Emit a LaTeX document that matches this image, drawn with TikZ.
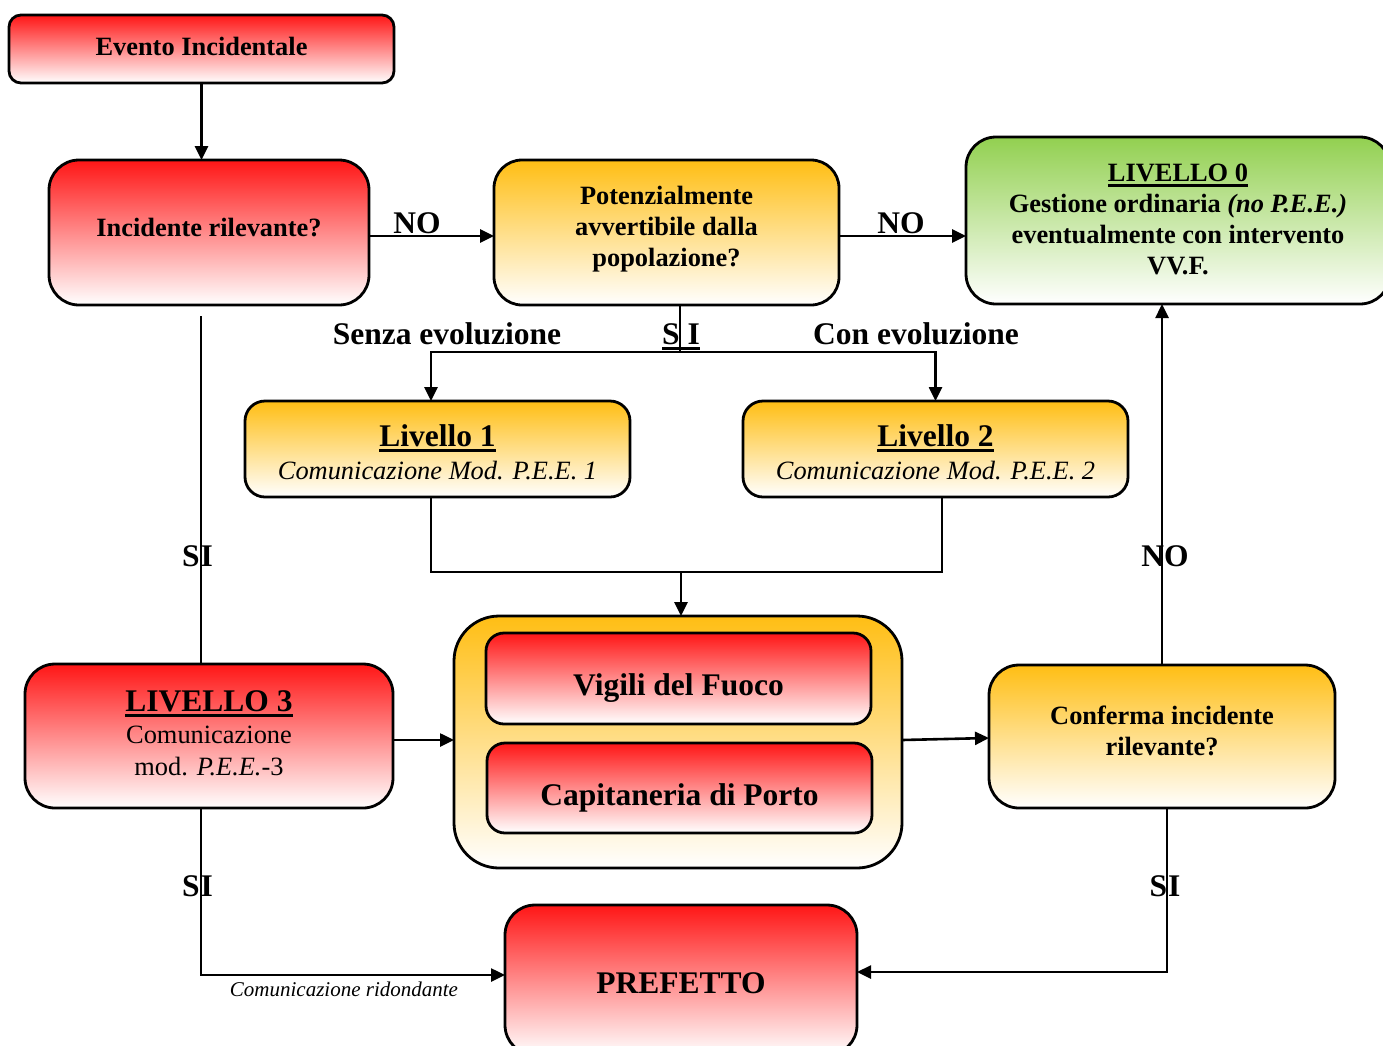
\documentclass[tikz,border=0pt]{standalone}
\usepackage{fontspec}
\setmainfont{Liberation Serif}
\usetikzlibrary{arrows.meta,shadings}
\definecolor{rtop}{RGB}{255,22,22}
\definecolor{otop}{RGB}{255,190,20}
\definecolor{gtop}{RGB}{146,208,80}
\newcommand\myul[1]{\setbox0\hbox{#1}\leavevmode\rlap{\rule[-5.5pt]{\wd0}{2.8pt}}\box0}
\tikzset{
  bx/.style={draw, line width=2.8pt, inner sep=0pt, outer sep=0pt},
  txt/.style={align=center, inner sep=0pt},
  redf/.style={top color=rtop, bottom color=white},
  orf/.style={top color=otop, bottom color=white},
  grf/.style={top color=gtop, bottom color=white},
  tb/.style={txt, font=\fontsize{26.4}{31}\selectfont\bfseries},
  tn/.style={txt, font=\fontsize{26.4}{32}\selectfont},
  tB/.style={txt, font=\fontsize{31.5}{34}\selectfont\bfseries},
  lbl/.style={font=\fontsize{31.5}{34}\selectfont\bfseries, inner sep=0pt, anchor=base},
  conn/.style={line width=2.6pt},
  arr/.style={conn, -{Triangle[length=14pt,width=13pt]}},
}
\begin{document}
\begin{tikzpicture}[x=1pt,y=-1pt]
\useasboundingbox (0,0) rectangle (1383,1045);
% boxes
\node[bx,redf,rounded corners=12pt,minimum width=385pt,minimum height=68pt] (ev) at (201.5,49) {};
\node[bx,redf,rounded corners=30pt,minimum width=320pt,minimum height=145pt] (inc) at (209,232.5) {};
\node[bx,orf,rounded corners=28pt,minimum width=345pt,minimum height=145pt] (pot) at (666.5,232.5) {};
\node[bx,grf,rounded corners=30pt,minimum width=424pt,minimum height=167pt] (l0) at (1178,220.5) {};
\node[bx,orf,rounded corners=20pt,minimum width=385pt,minimum height=96pt] (l1) at (437.5,449) {};
\node[bx,orf,rounded corners=20pt,minimum width=385pt,minimum height=96pt] (l2) at (935.5,449) {};
\node[bx,redf,rounded corners=30pt,minimum width=368pt,minimum height=144pt] (l3) at (209,736) {};
\node[bx,orf,rounded corners=45pt,minimum width=448pt,minimum height=252pt] (outer) at (678,742) {};
\node[bx,redf,rounded corners=18pt,minimum width=385pt,minimum height=91pt] (vig) at (678.5,678.5) {};
\node[bx,redf,rounded corners=18pt,minimum width=385pt,minimum height=90pt] (cap) at (679.5,788) {};
\node[bx,orf,rounded corners=30pt,minimum width=346pt,minimum height=143pt] (conf) at (1162,736.5) {};
\node[bx,redf,rounded corners=30pt,minimum width=352pt,minimum height=150pt] (pref) at (681,980) {};
% box texts
\node[tb] (evt) at (201.5,46) {Evento Incidentale};
\node[tb] (inct) at (209,227.5) {Incidente rilevante?};
\node[tb] (pott) at (666.5,229.5) {Potenzialmente\\avvertibile dalla\\popolazione?};
\node[tb] (l0t) at (1178,219.5) {\myul{LIVELLO 0}\\Gestione ordinaria \textit{(no P.E.E.)}\\eventualmente con intervento\\VV.F.};
\node[txt,font=\fontsize{26.4}{33}\selectfont] (l1t) at (437.5,452) {{\fontsize{31.5}{33}\selectfont\bfseries\myul{Livello 1}}\\\textit{Comunicazione Mod. P.E.E. 1}};
\node[txt,font=\fontsize{26.4}{33}\selectfont] (l2t) at (935.5,452) {{\fontsize{31.5}{33}\selectfont\bfseries\myul{Livello 2}}\\\textit{Comunicazione Mod. P.E.E. 2}};
\node[tn] (l3t) at (209,733) {{\fontsize{31.5}{32}\selectfont\bfseries\myul{LIVELLO 3}}\\Comunicazione\\mod. \textit{P.E.E.}-3};
\node[tB] (vigt) at (678.5,688) {Vigili del Fuoco};
\node[tB] (capt) at (679.5,798) {Capitaneria di Porto};
\node[tb] (conft) at (1162,730.5) {Conferma incidente\\rilevante?};
\node[tB] (preft) at (681,983) {PREFETTO};
% helper coordinates
\coordinate (s) at (680,352);
\coordinate (m) at (681,572);
\coordinate (a) at (201,316);
\coordinate (cs) at (1167,808);
% connectors
\draw[arr] (ev.south) -- (ev.south |- inc.north);
\draw[arr] ([yshift=-3.5pt]inc.east) -- ([yshift=-3.5pt]pot.west);
\draw[arr] ([yshift=-3.5pt]pot.east) -- ([yshift=-3.5pt]pot.east -| l0.west);
\draw[conn] (pot.south -| s) -- (s);
\draw[arr] (s) -| ([xshift=-6.5pt]l1.north);
\draw[arr] (s) -| (l2.north);
\draw[conn] ([xshift=-6.5pt]l1.south) |- (m) -| ([xshift=6.5pt]l2.south);
\draw[arr] (m) -- (m |- outer.north);
\draw[conn] (a) -- (a |- l3.north);
\draw[arr] ([yshift=-4pt]l3.east) -- ([yshift=-4pt]l3.east -| outer.west);
\draw[arr] ([yshift=2pt]outer.east) -- ([yshift=-1.5pt]conf.west);
\draw[arr] (conf.north) -- (conf.north |- l0.south);
\draw[arr] (conf.south -| cs) |- ([yshift=8pt]pref.east);
\draw[arr] (l3.south -| a) |- ([yshift=5pt]pref.west);
% labels
\node[lbl] (no1) at (417,233) {NO};
\node[lbl] (no2) at (901,233) {NO};
\node[lbl] (senza) at (447,344) {Senza evoluzione};
\node[lbl] (si0) at (681,344) {\myul{S I}};
\node[lbl] (con) at (916,344) {Con evoluzione};
\node[lbl] (si1) at (197.5,566) {S\kern1pt I};
\node[lbl] (si2) at (197.5,896) {S\kern1pt I};
\node[lbl] (no3) at (1165,566) {NO};
\node[lbl] (si3) at (1165,896) {S\kern1pt I};
\node[inner sep=0pt,anchor=base,font=\fontsize{21}{24}\selectfont\itshape] (rid) at (344,996) {Comunicazione ridondante};
\end{tikzpicture}
\end{document}
